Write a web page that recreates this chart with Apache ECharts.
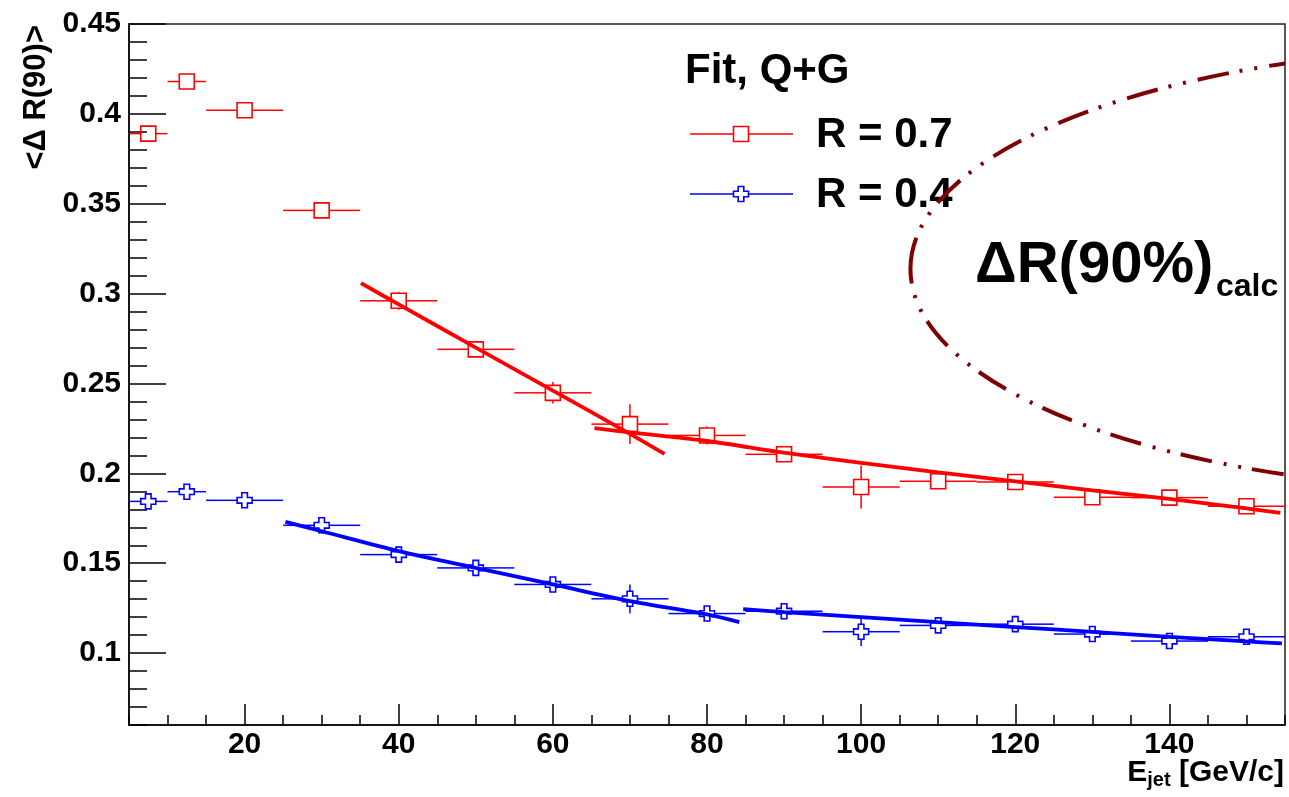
<!DOCTYPE html>
<html><head><meta charset="utf-8">
<script src="https://cdn.jsdelivr.net/npm/echarts@6/dist/echarts.min.js"></script>
<style>html,body{margin:0;padding:0;background:#fff}#c{width:1289px;height:797px}</style>
</head><body><div id="c"></div>
<script>
// ---- data ----
const xCenters = [7.5, 12.5, 20, 30, 40, 50, 60, 70, 80, 90, 100, 110, 120, 130, 140, 150];
const xHalfWidths = [2.5, 2.5, 5, 5, 5, 5, 5, 5, 5, 5, 5, 5, 5, 5, 5, 5];
const r07Values = [0.389, 0.418, 0.402, 0.3463, 0.296, 0.269, 0.2448, 0.2274, 0.2211, 0.2106, 0.1924, 0.1956, 0.1952, 0.1867, 0.1865, 0.1817];
const r07Errors = [0.002, 0.002, 0.002, 0.003, 0.005, 0.003, 0.006, 0.011, 0.005, 0.003, 0.012, 0.0045, 0.003, 0.003, 0.003, 0.003];
const r04Values = [0.1844, 0.1898, 0.185, 0.1711, 0.1548, 0.1474, 0.1382, 0.1302, 0.122, 0.1233, 0.1119, 0.1154, 0.1161, 0.1106, 0.1067, 0.1091];
const r04Errors = [0.002, 0.002, 0.002, 0.003, 0.003, 0.003, 0.003, 0.008, 0.003, 0.003, 0.008, 0.003, 0.003, 0.003, 0.003, 0.003];
const fitR07Low = [[35.1, 0.3058], [40, 0.294], [50, 0.270], [60, 0.246], [70, 0.222], [74.5, 0.2108]];
const fitR07High = [[65.4, 0.2252], [70, 0.2228], [80, 0.218], [90, 0.2115], [100, 0.2058], [110, 0.2006], [120, 0.1956], [130, 0.1905], [140, 0.1858], [150, 0.1805], [154.4, 0.178]];
const fitR04Low = [[25.3, 0.173], [30, 0.1678], [40, 0.1567], [50, 0.1474], [60, 0.1382], [70, 0.1289], [80, 0.1215], [84.2, 0.1172]];
const fitR04High = [[84.7, 0.1245], [90, 0.1228], [100, 0.1200], [110, 0.1172], [120, 0.1145], [130, 0.1118], [140, 0.1090], [150, 0.1065], [154.6, 0.1054]];
const xTickLabels = [20, 40, 60, 80, 100, 120, 140];
const yTickLabels = [0.1, 0.15, 0.2, 0.25, 0.3, 0.35, 0.4, 0.45];
// calc contour: centre x, centre y, half-width (x units), half-height (y units)
const calcContour = [[184.1, 0.3137, 77.7, 0.1233]];

const FONT = '"Liberation Sans", Arial, Helvetica, sans-serif';
const RED = '#ff0000', BLUE = '#0000ff', MAROON = '#7f0000';

function pointRows(values, errors) {
  return xCenters.map((x, i) => [x, values[i], xHalfWidths[i], errors[i]]);
}

function errRender(color, kind) {
  return function (params, api) {
    const x = api.value(0), y = api.value(1), ex = api.value(2), ey = api.value(3);
    const c = api.coord([x, y]);
    const l = api.coord([x - ex, y]), r = api.coord([x + ex, y]);
    const t = api.coord([x, y + ey]), b = api.coord([x, y - ey]);
    const h = 7.5;
    const ls = { stroke: color, lineWidth: 1.5 };
    const ch = [];
    if (c[0] - l[0] > h) ch.push({ type: 'line', shape: { x1: l[0], y1: c[1], x2: c[0] - h, y2: c[1] }, style: ls });
    if (r[0] - c[0] > h) ch.push({ type: 'line', shape: { x1: c[0] + h, y1: c[1], x2: r[0], y2: c[1] }, style: ls });
    if (c[1] - t[1] > h) ch.push({ type: 'line', shape: { x1: c[0], y1: t[1], x2: c[0], y2: c[1] - h }, style: ls });
    if (b[1] - c[1] > h) ch.push({ type: 'line', shape: { x1: c[0], y1: c[1] + h, x2: c[0], y2: b[1] }, style: ls });
    if (kind === 'square') {
      ch.push({ type: 'rect', shape: { x: c[0] - h, y: c[1] - h, width: 2 * h, height: 2 * h }, style: { fill: 'none', stroke: color, lineWidth: 1.6 } });
    } else {
      const s = h, w = 2.8, cx = c[0], cy = c[1];
      ch.push({ type: 'polygon', shape: { points: [
        [cx - w, cy - s], [cx + w, cy - s], [cx + w, cy - w], [cx + s, cy - w], [cx + s, cy + w], [cx + w, cy + w],
        [cx + w, cy + s], [cx - w, cy + s], [cx - w, cy + w], [cx - s, cy + w], [cx - s, cy - w], [cx - w, cy - w]] },
        style: { fill: 'none', stroke: color, lineWidth: 1.6 } });
    }
    return { type: 'group', children: ch };
  };
}

function fitSeries(data, color) {
  return { type: 'line', data: data, xAxisIndex: 0, yAxisIndex: 0, showSymbol: false, symbol: 'none',
    smooth: 0.3, lineStyle: { color: color, width: 3.8 }, z: 5, silent: true };
}

const chart = echarts.init(document.getElementById('c'), null, { renderer: 'canvas' });
const axisLabelStyle = { color: '#000', fontFamily: FONT, fontWeight: 'bold' };

chart.setOption({
  animation: false,
  backgroundColor: '#fff',
  grid: { left: 129, right: 4, top: 24, bottom: 72, show: true, borderColor: '#222', borderWidth: 1.5, backgroundColor: 'transparent' },
  xAxis: [
    { type: 'value', min: 5, max: 155, interval: 5, position: 'bottom',
      axisLine: { show: true, lineStyle: { color: '#000', width: 1.5 } },
      axisTick: { show: true, inside: true, length: 10, lineStyle: { color: '#000', width: 1.5 } },
      axisLabel: Object.assign({ fontSize: 30, margin: 5, customValues: xTickLabels, formatter: v => String(v) }, axisLabelStyle),
      splitLine: { show: false } },
    { type: 'value', min: 5, max: 155, position: 'bottom',
      axisLine: { show: false },
      axisTick: { show: true, inside: true, length: 21, customValues: xTickLabels, lineStyle: { color: '#000', width: 1.5 } },
      axisLabel: { show: false }, splitLine: { show: false } }
  ],
  yAxis: [
    { type: 'value', min: 0.06, max: 0.45, interval: 0.01, position: 'left',
      axisLine: { show: true, lineStyle: { color: '#000', width: 1.5 } },
      axisTick: { show: true, inside: true, length: 18, lineStyle: { color: '#000', width: 1.5 } },
      axisLabel: Object.assign({ fontSize: 30, margin: 8, customValues: yTickLabels, formatter: v => String(+v.toFixed(2)) }, axisLabelStyle),
      splitLine: { show: false } },
    { type: 'value', min: 0.06, max: 0.45, position: 'left',
      axisLine: { show: false },
      axisTick: { show: true, inside: true, length: 37, customValues: yTickLabels, lineStyle: { color: '#000', width: 1.5 } },
      axisLabel: { show: false }, splitLine: { show: false } }
  ],
  series: [
    { type: 'custom', name: 'contour', xAxisIndex: 0, yAxisIndex: 0, data: calcContour, silent: true, z: 3,
      renderItem: function (params, api) {
        const c = api.coord([api.value(0), api.value(1)]);
        const sz = api.size([api.value(2), api.value(3)]);
        const cs = params.coordSys;
        return { type: 'group', children: [{
          type: 'ellipse', shape: { cx: c[0], cy: c[1], rx: sz[0], ry: sz[1] },
          style: { fill: 'none', stroke: MAROON, lineWidth: 4, lineDash: [32, 11, 3, 12, 3, 12] }
        }], clipPath: { type: 'rect', shape: { x: cs.x, y: cs.y, width: cs.width, height: cs.height } } };
      } },
    { type: 'custom', name: 'R = 0.7', xAxisIndex: 0, yAxisIndex: 0, data: pointRows(r07Values, r07Errors), renderItem: errRender(RED, 'square'), z: 4 },
    { type: 'custom', name: 'R = 0.4', xAxisIndex: 0, yAxisIndex: 0, data: pointRows(r04Values, r04Errors), renderItem: errRender(BLUE, 'cross'), z: 4 },
    fitSeries(fitR07Low, RED), fitSeries(fitR07High, RED),
    fitSeries(fitR04Low, BLUE), fitSeries(fitR04High, BLUE)
  ],
  graphic: [
    // y-axis title
    { type: 'text', x: 36, y: 25, rotation: Math.PI / 2,
      style: { text: '<\u0394 R(90)>', fill: '#000', font: 'bold 31px ' + FONT, align: 'right', verticalAlign: 'middle' } },
    // x-axis title
    { type: 'text', x: 1284, y: 773,
      style: { text: '{m|E}{s|jet}{m| [GeV/c]}', align: 'right', verticalAlign: 'middle', fill: '#000',
        rich: { m: { fontSize: 30, fontWeight: 'bold', fontFamily: FONT, lineHeight: 34, fill: '#000' },
                s: { fontSize: 20, fontWeight: 'bold', fontFamily: FONT, lineHeight: 14, verticalAlign: 'bottom', fill: '#000' } } } },
    // legend
    { type: 'text', x: 685, y: 71, style: { text: 'Fit, Q+G', fill: '#000', font: 'bold 42px ' + FONT, verticalAlign: 'middle' } },
    { type: 'line', shape: { x1: 690, y1: 134, x2: 793, y2: 134 }, style: { stroke: RED, lineWidth: 1.5 } },
    { type: 'rect', shape: { x: 733.5, y: 126.5, width: 15, height: 15 }, style: { fill: '#fff', stroke: RED, lineWidth: 1.6 } },
    { type: 'text', x: 816, y: 135, style: { text: 'R = 0.7', fill: '#000', font: 'bold 42px ' + FONT, verticalAlign: 'middle' } },
    { type: 'line', shape: { x1: 690, y1: 194, x2: 793, y2: 194 }, style: { stroke: BLUE, lineWidth: 1.5 } },
    { type: 'polygon', shape: { points: [[738.2, 186.5], [743.8, 186.5], [743.8, 191.2], [748.5, 191.2], [748.5, 196.8], [743.8, 196.8], [743.8, 201.5], [738.2, 201.5], [738.2, 196.8], [733.5, 196.8], [733.5, 191.2], [738.2, 191.2]] },
      style: { fill: '#fff', stroke: BLUE, lineWidth: 1.6 } },
    { type: 'text', x: 816, y: 195, style: { text: 'R = 0.4', fill: '#000', font: 'bold 42px ' + FONT, verticalAlign: 'middle' } },
    // contour label
    { type: 'text', x: 975, y: 266, style: { text: '\u0394R(90%)', fill: '#000', font: 'bold 58px ' + FONT, verticalAlign: 'middle' } },
    { type: 'text', x: 1216, y: 287, style: { text: 'calc', fill: '#000', font: 'bold 32px ' + FONT, verticalAlign: 'middle' } }
  ]
});
</script></body></html>
